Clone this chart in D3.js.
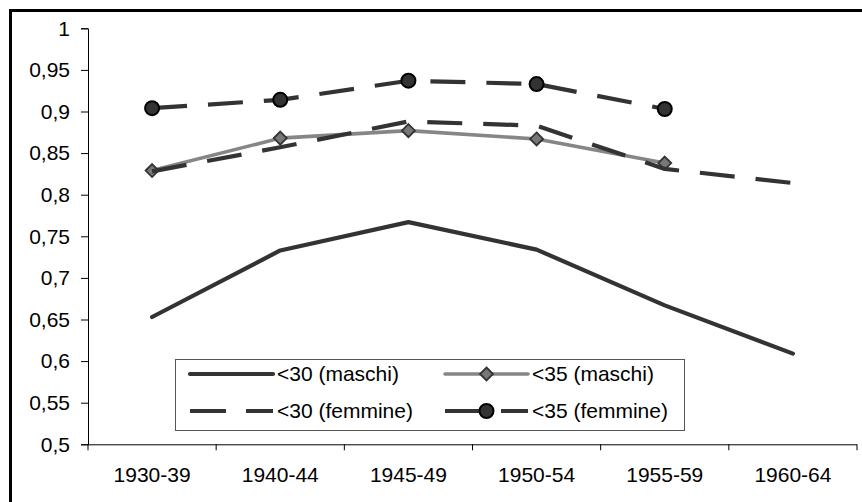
<!DOCTYPE html>
<html>
<head>
<meta charset="utf-8">
<script src="https://cdn.jsdelivr.net/npm/d3@7"></script>
<style>
  body { margin: 0; background: #fff; overflow: hidden; }
  text { font-family: "Liberation Sans", Arial, sans-serif; fill: #000; }
</style>
</head>
<body>
<div id="chart"></div>
<script>
// categories and values
const categories = ["1930-39", "1940-44", "1945-49", "1950-54", "1955-59", "1960-64"];
const maschi30 = [0.653, 0.733, 0.767, 0.734, 0.667, 0.609];
const maschi35 = [0.829, 0.868, 0.877, 0.867, 0.838, null];
const femmine30 = [0.828, 0.857, 0.888, 0.883, 0.831, 0.814];
const femmine35 = [0.904, 0.914, 0.937, 0.933, 0.903, null];
const yTicks = [0.5, 0.55, 0.6, 0.65, 0.7, 0.75, 0.8, 0.85, 0.9, 0.95, 1];

const W = 862, H = 502;
const FS = "21px";

const svg = d3.select("#chart")
  .append("svg")
    .attr("width", W)
    .attr("height", H);

// outer frame (right and bottom edges are cut off in the picture)
svg.append("rect")
  .attr("x", 10.5).attr("y", 10.5)
  .attr("width", 900).attr("height", 600)
  .attr("fill", "none")
  .attr("stroke", "#000")
  .attr("stroke-width", 3);

const x = d3.scaleBand()
  .domain(categories)
  .range([88, 857])
  .padding(0);

const y = d3.scaleLinear()
  .domain([0.5, 1])
  .range([444.3, 28.3]);

const cx = c => x(c) + x.bandwidth() / 2;
const fmt = d => String(+d.toFixed(2)).replace(".", ",");

// Y axis
const yAxis = svg.append("g")
  .attr("transform", "translate(88,0)")
  .call(d3.axisLeft(y).tickValues(yTicks).tickFormat(fmt).tickSize(7).tickPadding(11));
yAxis.selectAll("text").style("font-size", FS);
yAxis.selectAll("line, path").attr("stroke", "#000");

// X axis: labels at centres, tick marks at band edges
const xAxis = svg.append("g")
  .attr("transform", `translate(0,${y(0.5)})`)
  .call(d3.axisBottom(x).tickSize(0).tickPadding(23));
xAxis.select(".domain").attr("d", `M${x.range()[0]},0.5H${x.range()[1]}`).attr("stroke", "#000");
xAxis.selectAll("text").style("font-size", FS);
xAxis.selectAll(".edge")
  .data(categories.map(c => x(c)).concat([x.range()[1]]))
  .enter().append("line")
    .attr("class", "edge")
    .attr("x1", d => d).attr("x2", d => d)
    .attr("y1", 0).attr("y2", 6)
    .attr("stroke", "#000");

const line = d3.line()
  .defined(d => d.v != null)
  .x(d => cx(d.c))
  .y(d => y(d.v));

const toPts = vals => categories.map((c, i) => ({c: c, v: vals[i]}));

const series = [
  {name: "<30 (maschi)", vals: maschi30, color: "#333", width: 4.2, dash: null, marker: null},
  {name: "<35 (maschi)", vals: maschi35, color: "#868686", width: 3.6, dash: null, marker: "diamond"},
  {name: "<30 (femmine)", vals: femmine30, color: "#333", width: 4.2, dash: "35,21", marker: null},
  {name: "<35 (femmine)", vals: femmine35, color: "#333", width: 4.2, dash: "35,21", marker: "circle"}
];

function drawMarker(g, type, px, py) {
  if (type === "diamond") {
    g.append("path")
      .attr("d", `M${px},${py - 6.5}L${px + 6.5},${py}L${px},${py + 6.5}L${px - 6.5},${py}Z`)
      .attr("fill", "#777")
      .attr("stroke", "#333")
      .attr("stroke-width", 1.8);
  } else if (type === "circle") {
    g.append("circle")
      .attr("cx", px).attr("cy", py).attr("r", 7)
      .attr("fill", "#333")
      .attr("stroke", "#000")
      .attr("stroke-width", 2);
  }
}

series.forEach(s => {
  const pts = toPts(s.vals);
  svg.append("path")
    .datum(pts)
    .attr("fill", "none")
    .attr("stroke", s.color)
    .attr("stroke-width", s.width)
    .attr("stroke-linejoin", "round")
    .attr("stroke-linecap", s.dash ? "butt" : "round")
    .attr("stroke-dasharray", s.dash)
    .attr("d", line);
  if (s.marker) {
    const g = svg.append("g");
    pts.filter(d => d.v != null).forEach(d => drawMarker(g, s.marker, cx(d.c), y(d.v)));
  }
});

// legend
const legend = svg.append("g");
legend.append("rect")
  .attr("x", 175.5).attr("y", 359.5)
  .attr("width", 509).attr("height", 71)
  .attr("fill", "#fff")
  .attr("stroke", "#555")
  .attr("stroke-width", 1);

const legPos = [
  {lx: 190, ly: 374}, {lx: 445, ly: 374},
  {lx: 190, ly: 411}, {lx: 445, ly: 411}
];

series.forEach((s, i) => {
  const p = legPos[i];
  legend.append("line")
    .attr("x1", p.lx).attr("x2", p.lx + 83)
    .attr("y1", p.ly).attr("y2", p.ly)
    .attr("stroke", s.color)
    .attr("stroke-width", s.width)
    .attr("stroke-linecap", s.dash ? "butt" : "round")
    .attr("stroke-dasharray", s.dash ? "36,20" : null);
  if (s.marker) drawMarker(legend, s.marker, p.lx + 41.5, p.ly);
  legend.append("text")
    .attr("x", p.lx + 87)
    .attr("y", p.ly)
    .attr("dy", "0.35em")
    .style("font-size", FS)
    .text(s.name);
});
</script>
</body>
</html>
